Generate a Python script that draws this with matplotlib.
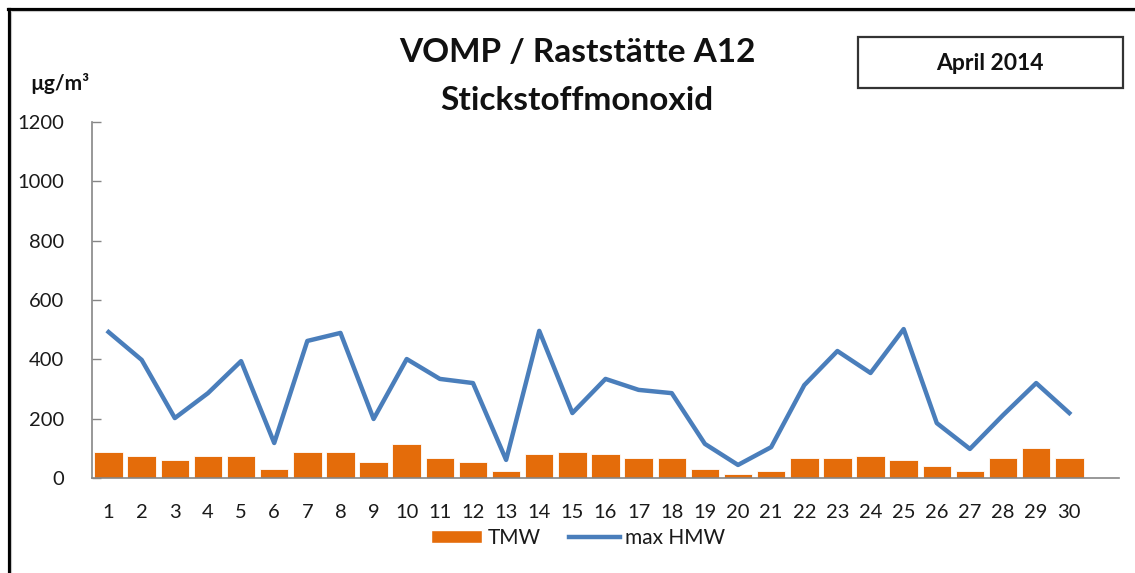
import matplotlib.pyplot as plt
from matplotlib.lines import Line2D
from matplotlib.patches import Patch, Rectangle

plt.rcParams['font.family'] = ['Lato', 'DejaVu Sans']

# NO concentrations, April 2014
days = list(range(1, 31))
tmw = [88, 73, 61, 73, 73, 30, 88, 88, 54, 115,
       67, 54, 24, 81, 88, 81, 67, 67, 30, 13,
       24, 67, 67, 73, 61, 40, 24, 67, 101, 67]
max_hmw = [492, 398, 202, 286, 394, 118, 462, 489, 199, 401,
           334, 320, 61, 496, 219, 334, 297, 286, 115, 44,
           104, 313, 428, 354, 502, 185, 98, 212, 320, 219]
yticks = [0, 200, 400, 600, 800, 1000, 1200]

orange = '#E46C0A'
blue = '#4A7EBB'
grey = '#868686'
txt = '#1a1a1a'

W, H = 1135, 573
fig = plt.figure(figsize=(W / 100, H / 100), dpi=100)
ax = fig.add_axes([92 / W, 95 / H, (1119 - 92) / W, 356 / H])

ax.bar(days, tmw, width=0.86, color=orange, edgecolor='white', linewidth=0.6, zorder=2)
ax.plot(days, max_hmw, color=blue, linewidth=3.2, solid_joinstyle='round', zorder=3)

ax.set_xlim(0.5, 31.5)
ax.set_ylim(0, 1200)
ax.set_xticks(days)
ax.set_yticks(yticks)
ax.tick_params(axis='x', length=0, pad=19, labelsize=14.5, labelcolor=txt)
ax.tick_params(axis='y', direction='in', length=6.5, width=1, color=grey,
               pad=20, labelsize=14.5, labelcolor=txt)
for s in ['top', 'right']:
    ax.spines[s].set_visible(False)
for s in ['left', 'bottom']:
    ax.spines[s].set_color(grey)
    ax.spines[s].set_linewidth(1.2)

# titles and unit
fig.text(577 / W, 1 - 53 / H, 'VOMP / Raststätte A12', ha='center', va='center',
         fontsize=24, fontweight='bold', color='#111111')
fig.text(577 / W, 1 - 101 / H, 'Stickstoffmonoxid', ha='center', va='center',
         fontsize=24, fontweight='bold', color='#111111')
fig.text(60 / W, 1 - 84 / H, 'µg/m³', ha='center', va='center',
         fontsize=15, fontweight='bold', color='#111111')

# month box
fig.patches.append(Rectangle((858 / W, 1 - 88 / H), (1123 - 858) / W, 51 / H,
                             transform=fig.transFigure, fill=False,
                             edgecolor='#333333', linewidth=1.6))
fig.text(990 / W, 1 - 64 / H, 'April 2014', ha='center', va='center',
         fontsize=16.5, fontweight='bold', color='#111111')

# legend
handles = [Patch(facecolor=orange, edgecolor='white'),
           Line2D([], [], color=blue, linewidth=3.2)]
fig.legend(handles, ['TMW', 'max HMW'], loc='center', bbox_to_anchor=(578 / W, 1 - 538 / H),
           ncol=2, frameon=False, fontsize=15, handlelength=2.45, handleheight=0.55,
           handletextpad=0.25, columnspacing=1.35, labelcolor=txt)

# outer frame (left and top edges)
fig.add_artist(Line2D([8.5 / W, 8.5 / W], [0, 1 - 8.5 / H], color='black',
                      linewidth=2.3, transform=fig.transFigure))
fig.add_artist(Line2D([7.5 / W, 1], [1 - 8.5 / H, 1 - 8.5 / H], color='black',
                      linewidth=2.3, transform=fig.transFigure))
fig.add_artist(Line2D([11 / W, 11 / W], [0, 1 - 11 / H], color='#c8c8c8',
                      linewidth=0.8, transform=fig.transFigure))
fig.add_artist(Line2D([11 / W, 1], [1 - 11 / H, 1 - 11 / H], color='#c8c8c8',
                      linewidth=0.8, transform=fig.transFigure))

fig.savefig('out.png', dpi=100)
